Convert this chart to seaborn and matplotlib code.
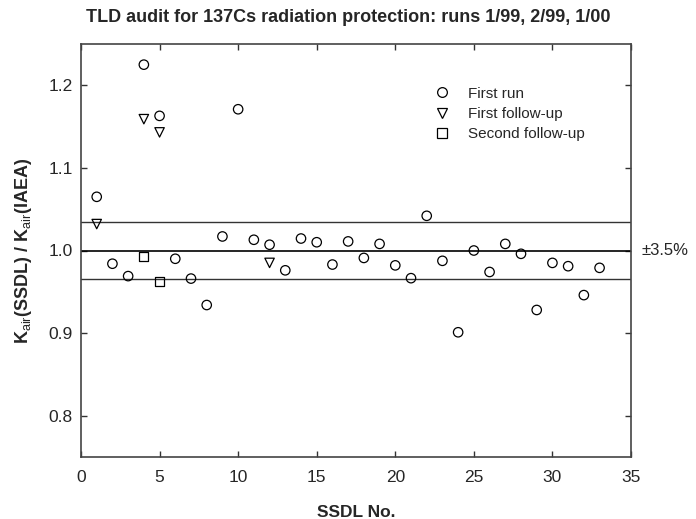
import numpy as np
import pandas as pd
import matplotlib
matplotlib.use("Agg")
from matplotlib import pyplot as plt
from matplotlib import transforms
import seaborn as sb

# data
first_run_ssdl = list(range(1, 34))
first_run_ratio = [1.065, 0.984, 0.969, 1.225, 1.163, 0.990, 0.966, 0.934, 1.017, 1.171,
                   1.013, 1.007, 0.976, 1.0145, 1.010, 0.983, 1.011, 0.991, 1.008, 0.982,
                   0.9665, 1.042, 0.9875, 0.901, 1.000, 0.974, 1.008, 0.996, 0.928, 0.985,
                   0.981, 0.946, 0.979]
follow1_ssdl = [1, 4, 5, 12]
follow1_ratio = [1.032, 1.159, 1.143, 0.985]
follow2_ssdl = [4, 5]
follow2_ratio = [0.993, 0.962]

run_labels = ["First run", "First follow-up", "Second follow-up"]
run_markers = ["o", "v", "s"]
tolerance = 0.035
x_ticks = [0, 5, 10, 15, 20, 25, 30, 35]
y_ticks = [0.8, 0.9, 1.0, 1.1, 1.2]

df = pd.concat([
    pd.DataFrame({"ssdl": first_run_ssdl, "ratio": first_run_ratio, "run": run_labels[0]}),
    pd.DataFrame({"ssdl": follow1_ssdl, "ratio": follow1_ratio, "run": run_labels[1]}),
    pd.DataFrame({"ssdl": follow2_ssdl, "ratio": follow2_ratio, "run": run_labels[2]}),
])

# general settings
sb.set_style("ticks")
plt.rcParams["font.family"] = ["Liberation Sans", "DejaVu Sans"]
plt.rcParams["mathtext.fontset"] = "custom"
plt.rcParams["mathtext.rm"] = "Liberation Sans"
plt.rcParams["mathtext.bf"] = "Liberation Sans:bold"

fig = plt.figure(figsize=(6.96, 5.19), dpi=100)
ax = fig.add_axes([81 / 696, 1 - 457 / 519, 550 / 696, 413 / 519])

# reference lines: 1.0 and +/-3.5 %
ax.axhline(1.0, color="black", lw=1.2, zorder=1)
ax.axhline(1.0 + tolerance, color="#333333", lw=1.0, zorder=1)
ax.axhline(1.0 - tolerance, color="#333333", lw=1.0, zorder=1)

# scatter each run with hollow markers
for lab, mk in zip(run_labels, run_markers):
    sub = df.loc[df["run"] == lab]
    size = 40 if mk == "s" else 46
    sb.scatterplot(x="ssdl", y="ratio", data=sub, marker=mk, s=size,
                   facecolor="none", edgecolor="black", linewidth=0.9,
                   label=lab, ax=ax, zorder=3, legend=False)

handles = [plt.Line2D([], [], ls="none", marker=mk, markersize=7 if mk != "s" else 6.5,
                      markerfacecolor="none", markeredgecolor="black", markeredgewidth=0.9)
           for mk in run_markers]
ax.legend(handles, run_labels, loc="upper left", bbox_to_anchor=(0.6425, 0.897),
          frameon=False, fontsize=11, handlelength=1.0, handletextpad=1.2,
          labelspacing=0.42, borderpad=0, borderaxespad=0)

ax.set_xlim(0, 35)
ax.set_ylim(0.75, 1.25)
ax.set_xticks(x_ticks)
ax.set_yticks(y_ticks)
ax.set_yticklabels(["%.1f" % v for v in y_ticks])
ax.tick_params(direction="in", length=4, width=1, color="#333333",
               top=True, right=True, labelsize=12.5, pad=6)
ax.tick_params(axis="x", pad=9)
for sp in ax.spines.values():
    sp.set_color("#444444")
    sp.set_linewidth(1.2)

ax.set_xlabel("SSDL No.", fontsize=12.5, fontweight="bold", labelpad=15)
ax.set_ylabel(r"K$_{\rm air}$(SSDL) / K$_{\rm air}$(IAEA)", fontsize=13,
              fontweight="bold", labelpad=10)

trans = transforms.blended_transform_factory(ax.transAxes, ax.transData)
ax.text(1.02, 1.0, "\u00b13.5%", transform=trans, ha="left", va="center", fontsize=12)

fig.suptitle("TLD audit for 137Cs radiation protection: runs 1/99, 2/99, 1/00",
             x=0.5, y=1 - 18 / 519, va="center", fontsize=13, fontweight="bold")

fig.savefig("out.png", dpi=100)
